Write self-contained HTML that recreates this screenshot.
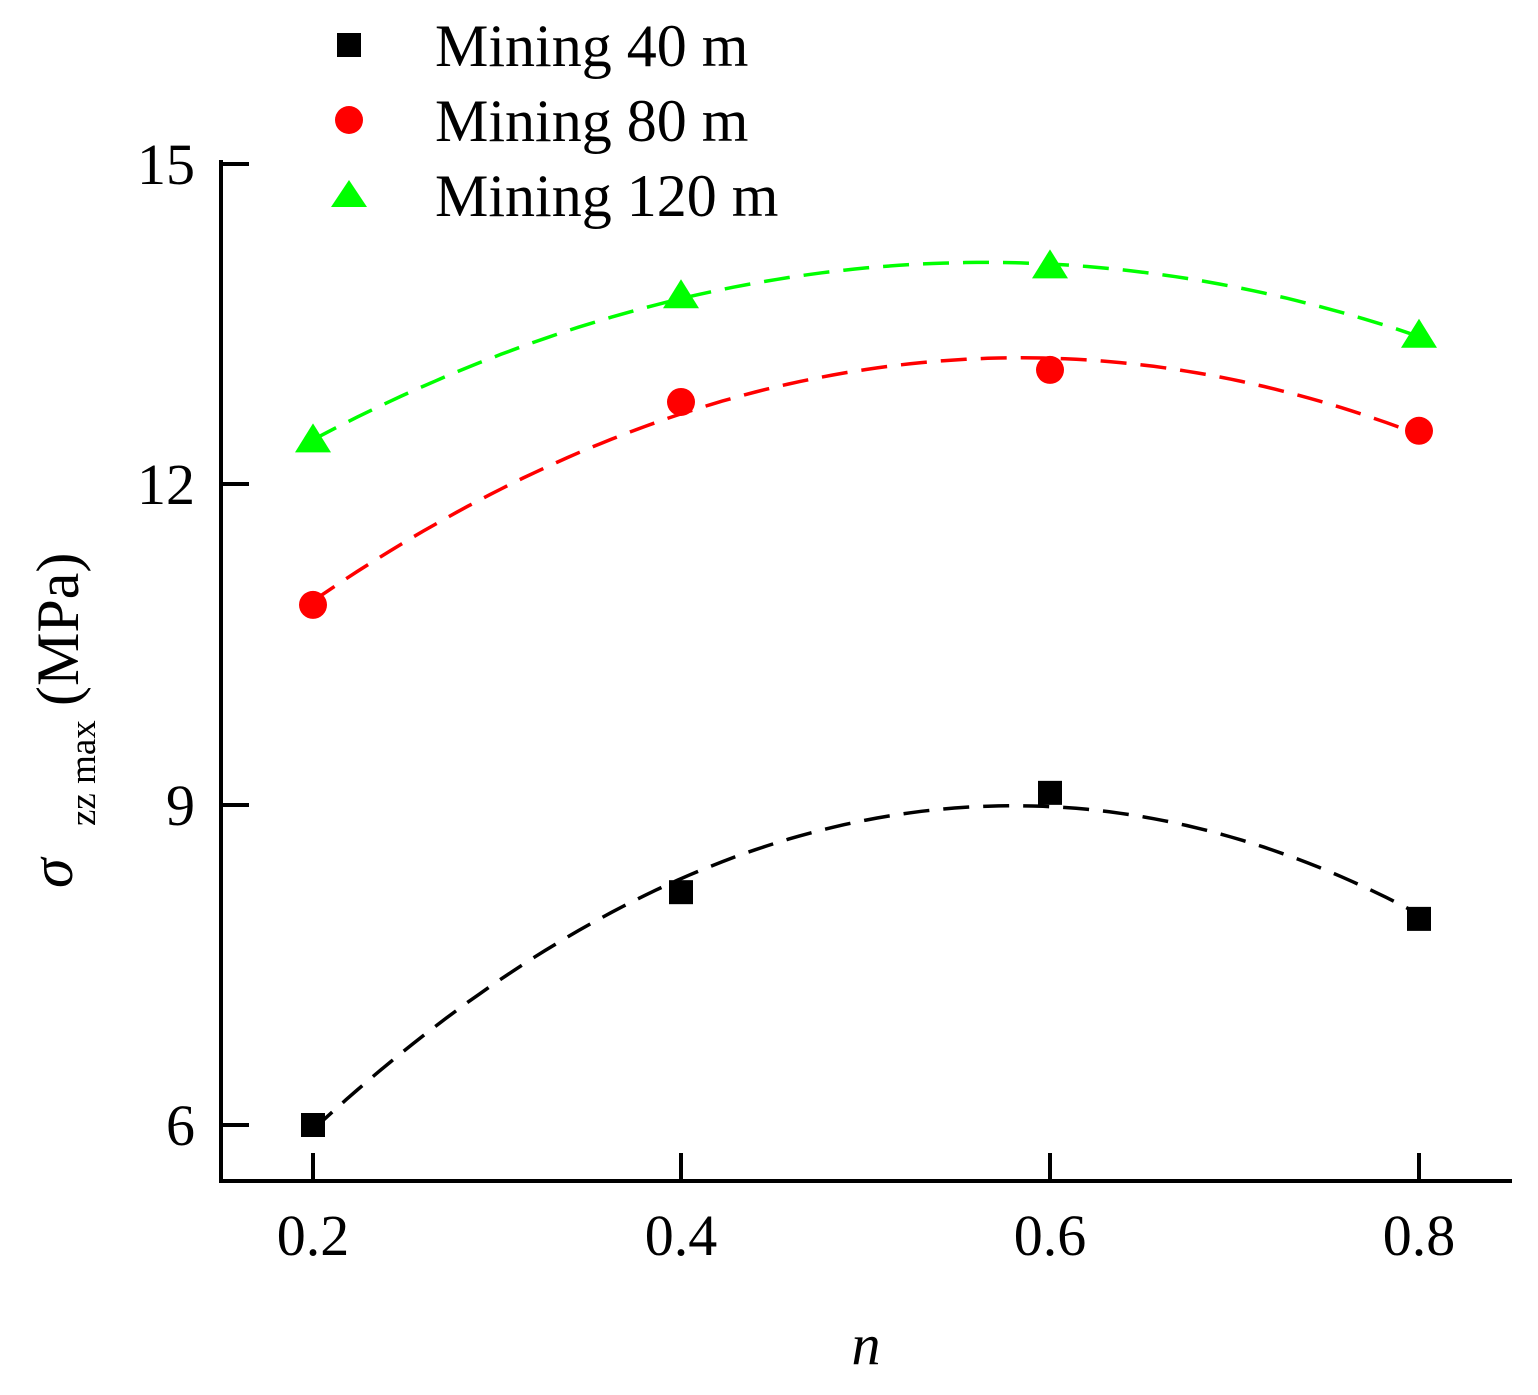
<!DOCTYPE html>
<html><head><meta charset="utf-8"><style>html,body{margin:0;padding:0;background:#fff}</style></head>
<body>
<svg id="s" width="1538" height="1390" xmlns="http://www.w3.org/2000/svg" font-family="Liberation Serif, serif">
<rect width="1538" height="1390" fill="#fff"/>
<g id="curves" fill="none" stroke-width="3.5" stroke-dasharray="26,14"></g>
<g stroke="#000" stroke-width="4" fill="none">
<path d="M221,160 V1181 H1512"/>
<path d="M221,164 H249 M221,484 H249 M221,805 H249 M221,1125 H249"/>
<path d="M313,1181 V1153 M681,1181 V1153 M1050,1181 V1153 M1419,1181 V1153"/>
</g>
<g font-size="58" fill="#000" text-anchor="end">
<text x="195" y="184">15</text><text x="195" y="504">12</text><text x="195" y="825">9</text><text x="195" y="1145">6</text>
</g>
<g font-size="58" fill="#000" text-anchor="middle">
<text x="313" y="1255">0.2</text><text x="681" y="1255">0.4</text><text x="1050" y="1255">0.6</text><text x="1419" y="1255">0.8</text>
</g>
<text x="866" y="1364" font-size="58" font-style="italic" text-anchor="middle">n</text>
<text transform="translate(72,888) rotate(-90)" font-size="60" font-style="italic">σ</text>
<text transform="translate(95,826) rotate(-90)" font-size="37">zz max</text>
<text transform="translate(78,706) rotate(-90)" font-size="60">(MPa)</text>
<g id="marks"></g>
<rect x="337" y="33" width="24" height="24" fill="#000"/>
<circle cx="349" cy="120" r="14" fill="#f00"/>
<polygon points="349,180 367,207 331,207" fill="#0f0"/>
<g font-size="60" fill="#000">
<text x="435" y="66">Mining 40 m</text>
<text x="435" y="141">Mining 80 m</text>
<text x="435" y="216">Mining 120 m</text>
</g>
</svg>
<script>
var X=[313,681,1050,1419];
var S=[{c:"#000",v:[6,8.18,9.11,7.93],m:"sq"},{c:"#f00",v:[10.87,12.77,13.07,12.5],m:"ci"},{c:"#0f0",v:[12.41,13.76,14.04,13.39],m:"tr"}];
function py(v){return 1125-(v-6)*106.8;}
var ns="http://www.w3.org/2000/svg",cg=document.getElementById("curves"),mg=document.getElementById("marks");
S.forEach(function(s){
 var t=[-1.5,-0.5,0.5,1.5],Sy=0,Sty=0,St2y=0;
 for(var i=0;i<4;i++){Sy+=s.v[i];Sty+=t[i]*s.v[i];St2y+=t[i]*t[i]*s.v[i];}
 var b=Sty/5;var c=(St2y-5*Sy/4)/(10.25-6.25);var a=(Sy-5*c)/4;
 var d="";
 for(var k=0;k<=100;k++){var tt=-1.5+3*k/100;var x=313+(1419-313)*k/100;var y=py(a+b*tt+c*tt*tt);d+=(k?"L":"M")+x.toFixed(1)+","+y.toFixed(1);}
 var p=document.createElementNS(ns,"path");p.setAttribute("d",d);p.setAttribute("stroke",s.c);cg.appendChild(p);
 for(var i=0;i<4;i++){var x=X[i],y=py(s.v[i]),e;
  if(s.m=="sq"){e=document.createElementNS(ns,"rect");e.setAttribute("x",x-12);e.setAttribute("y",y-12);e.setAttribute("width",24);e.setAttribute("height",24);}
  else if(s.m=="ci"){e=document.createElementNS(ns,"circle");e.setAttribute("cx",x);e.setAttribute("cy",y);e.setAttribute("r",14);}
  else{e=document.createElementNS(ns,"polygon");e.setAttribute("points",x+","+(y-17)+" "+(x+18)+","+(y+12)+" "+(x-18)+","+(y+12));}
  e.setAttribute("fill",s.c);mg.appendChild(e);}
});
</script>
</body></html>
